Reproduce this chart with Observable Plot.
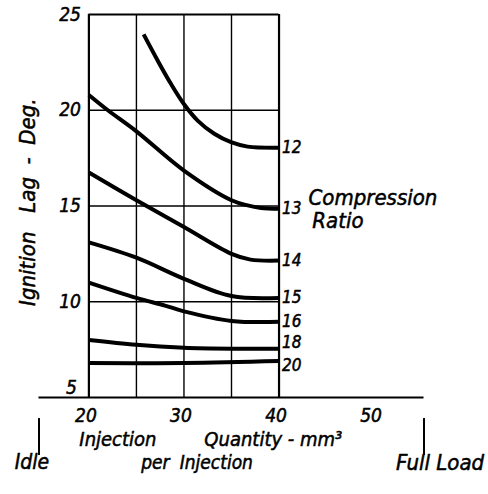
<!DOCTYPE html>
<html>
<head>
<meta charset="utf-8">
<script src="https://cdn.jsdelivr.net/npm/d3@7"></script>
<script src="https://cdn.jsdelivr.net/npm/@observablehq/plot@0.6"></script>
<style>
  html, body { margin: 0; padding: 0; background: #fff; }
  svg { display: block; }
</style>
</head>
<body>
<div id="chart"></div>
<script>
// ---- Data ----
const ratios = ["12", "13", "14", "15", "16", "18", "20"];
const q12 = [25.76, 27.23, 28.63, 30.03, 31.44, 33.19, 34.95, 36.7, 40];
const lag12 = [23.96, 22.6, 21.38, 20.3, 19.46, 18.77, 18.33, 18.1, 18.04];
const q13 = [20, 22, 25, 30, 35, 36.7, 38.1, 40];
const lag13 = [20.8, 20.0, 18.9, 16.85, 15.3, 15.03, 14.9, 14.85];
const q14 = [20, 25, 30, 35, 37, 40];
const lag14 = [16.75, 15.3, 13.9, 12.5, 12.2, 12.15];
const q15 = [20, 25, 30, 35, 40];
const lag15 = [13.1, 12.3, 11.2, 10.3, 10.2];
const q16 = [20, 25, 28, 30, 35, 40];
const lag16 = [11.0, 10.2, 9.8, 9.5, 9.0, 8.95];
const q18 = [20, 25, 30, 35, 40];
const lag18 = [8.0, 7.75, 7.6, 7.55, 7.55];
const q20 = [20, 30, 40];
const lag20 = [6.8, 6.8, 6.9];

const xTicks = [20, 30, 40, 50];
const yTicks = [5, 10, 15, 20, 25];
const xGrid = [20, 25, 30, 35, 40];
const yGrid = [10, 15, 20, 25];
const loadEnds = [14.75, 55.25]; // Idle, Full Load

// ---- Build tables ----
const seriesQ = [q12, q13, q14, q15, q16, q18, q20];
const seriesL = [lag12, lag13, lag14, lag15, lag16, lag18, lag20];
const curves = ratios.flatMap((r, i) => seriesQ[i].map((q, j) => ({ratio: r, q, lag: seriesL[i][j]})));
const ends = ratios.map((r, i) => ({ratio: r, q: seriesQ[i][seriesQ[i].length - 1], lag: seriesL[i][seriesL[i].length - 1]}));

const font = "'DejaVu Sans Condensed', 'DejaVu Sans', sans-serif";
const T = {fontStyle: "italic", fill: "#000", stroke: "#000", strokeWidth: 0.5, fontSize: 19};
const L = {x: "q", y: "lag", text: "ratio", dx: 3, textAnchor: "start", ...T, fontSize: 17};

const chart = Plot.plot({
  width: 488,
  height: 494,
  margin: 0,
  style: {background: "#fff", color: "#000", fontFamily: font},
  x: {type: "linear", domain: [14.7, 55.3], range: [38, 424], axis: null},
  y: {type: "linear", domain: [5, 25], range: [397, 14], axis: null},
  marks: [
    // grid
    Plot.ruleX(xGrid, {x: d => d, y1: 5, y2: 25, stroke: "#000", strokeWidth: d => (d === 20 || d === 40) ? 2.2 : 1.4}),
    Plot.ruleY(yGrid, {y: d => d, x1: 20, x2: 40, stroke: "#000", strokeWidth: d => d === 25 ? 2.2 : 1.4}),
    // x axis line
    Plot.ruleY([5], {x1: loadEnds[0], x2: loadEnds[1], stroke: "#000", strokeWidth: 2.2}),
    // curves
    Plot.line(curves, {x: "q", y: "lag", z: "ratio", curve: "catmull-rom", stroke: "#000", strokeWidth: 4, strokeLinecap: "butt"}),
    // ratio labels
    Plot.text(ends.filter(d => d.ratio !== "18" && d.ratio !== "20"), {...L}),
    Plot.text(ends.filter(d => d.ratio === "18"), {...L, dy: -6}),
    Plot.text(ends.filter(d => d.ratio === "20"), {...L, dy: 4}),
    Plot.text(["Compression"], {x: 43.1, y: 15.4, text: d => d, textAnchor: "start", ...T, fontSize: 22}),
    Plot.text(["Ratio"], {x: 43.5, y: 14.2, text: d => d, textAnchor: "start", ...T, fontSize: 22}),
    // y tick labels
    Plot.text(yTicks.filter(d => d !== 5), {x: 20, y: d => d, text: d => String(d), dx: -8, textAnchor: "end", ...T}),
    Plot.text(yTicks.filter(d => d === 5), {x: 20, y: d => d, text: d => String(d), dx: -12, dy: -10, textAnchor: "end", ...T}),
    // x tick labels
    Plot.text(xTicks, {x: d => d, y: 5, text: d => String(d), dx: -3, dy: 18, ...T}),
    // axis titles
    Plot.text(["Ignition   Lag  -  Deg."], {x: 20, y: 15.2, text: d => d, dx: -61, rotate: -90, ...T, fontSize: 22}),
    Plot.text(["Injection"], {x: 23.05, y: 5, text: d => d, dy: 42, ...T, fontSize: 20}),
    Plot.text(["Quantity - mm³"], {x: 39.4, y: 5, text: d => d, dy: 42, ...T, fontSize: 20}),
    Plot.text(["per"], {x: 27.0, y: 5, text: d => d, dy: 65, ...T, fontSize: 19}),
    Plot.text(["Injection"], {x: 33.4, y: 5, text: d => d, dy: 65, ...T, fontSize: 19}),
    Plot.text(["Idle"], {x: loadEnds[0], y: 5, text: d => d, dx: -7, dy: 65, ...T, fontSize: 21}),
    Plot.text(["Full Load"], {x: loadEnds[1], y: 5, text: d => d, dx: 16, dy: 65, ...T, fontSize: 22}),
    // idle / full load markers
    Plot.ruleX(loadEnds, {x: d => d, y1: 3.9, y2: 1.97, stroke: "#000", strokeWidth: 2}),
  ]
});
document.getElementById("chart").appendChild(chart);
</script>
</body>
</html>
